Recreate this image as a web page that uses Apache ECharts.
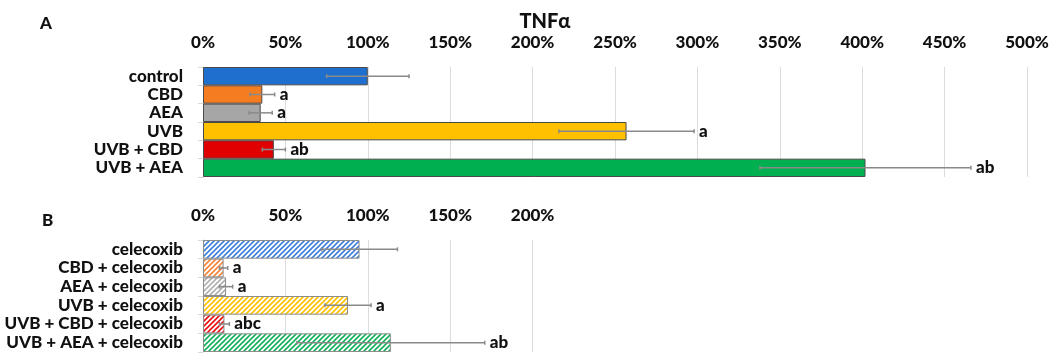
<!DOCTYPE html>
<html>
<head>
<meta charset="utf-8">
<script src="https://cdn.jsdelivr.net/npm/echarts@6/dist/echarts.min.js"></script>
<style>
  html, body { margin: 0; padding: 0; background: #fff; }
  #chart { width: 1059px; height: 353px; }
</style>
</head>
<body>
<div id="chart"></div>
<script>
// Panel A: TNFα relative to control
const catsA = ['control', 'CBD', 'AEA', 'UVB', 'UVB + CBD', 'UVB + AEA'];
const valsA = [100, 36, 35, 257, 43, 402];
const errA  = [25, 7.5, 7, 41, 7, 64];
const sigA  = ['', 'a', 'a', 'a', 'ab', 'ab'];
const colorsA = ['#1f6fcf', '#f47d22', '#a6a6a6', '#ffc000', '#e00000', '#00b050'];

// Panel B: same treatments with celecoxib
const catsB = ['celecoxib', 'CBD + celecoxib', 'AEA + celecoxib', 'UVB + celecoxib', 'UVB + CBD + celecoxib', 'UVB + AEA + celecoxib'];
const valsB = [95, 12.5, 14, 88, 13, 114];
const errB  = [23, 2.5, 4, 14, 3, 57];
const sigB  = ['', 'a', 'a', 'a', 'abc', 'ab'];
const colorsB = ['#3f7fd8', '#f4853a', '#b0b0b0', '#ffc000', '#e81010', '#12b05a'];

const ticksA = [0, 50, 100, 150, 200, 250, 300, 350, 400, 450, 500];
const ticksB = [0, 50, 100, 150, 200];

const FONT = 'Lato';
const WEIGHT = 900;

// diagonal hatch tile for the celecoxib bars
function hatch(color) {
  const s = 5;
  const c = document.createElement('canvas');
  c.width = s; c.height = s;
  const g = c.getContext('2d');
  g.fillStyle = '#ffffff';
  g.fillRect(0, 0, s, s);
  g.strokeStyle = color;
  g.lineWidth = 1.6;
  g.beginPath();
  g.moveTo(-1, s + 1); g.lineTo(s + 1, -1);
  g.moveTo(-1, 1); g.lineTo(1, -1);
  g.moveTo(s - 1, s + 1); g.lineTo(s + 1, s - 1);
  g.stroke();
  return { image: c, repeat: 'repeat' };
}

function errorSeries(idx, vals, errs, sigs) {
  return {
    type: 'custom',
    xAxisIndex: idx, yAxisIndex: idx,
    z: 10,
    silent: true,
    data: vals.map((v, i) => [v, i, errs[i]]),
    encode: { x: 0, y: 1 },
    renderItem(params, api) {
      const v = api.value(0), cat = api.value(1), e = api.value(2);
      const lo = api.coord([v - e, cat]);
      const hi = api.coord([v + e, cat]);
      const cap = 2;
      const st = { stroke: '#8a8a8a', lineWidth: 1.5 };
      return {
        type: 'group',
        children: [
          { type: 'line', shape: { x1: lo[0], y1: lo[1], x2: hi[0], y2: hi[1] }, style: st },
          { type: 'line', shape: { x1: lo[0], y1: lo[1] - cap, x2: lo[0], y2: lo[1] + cap }, style: st },
          { type: 'line', shape: { x1: hi[0], y1: hi[1] - cap, x2: hi[0], y2: hi[1] + cap }, style: st },
          { type: 'text', style: {
              x: hi[0] + 5, y: hi[1], text: sigs[params.dataIndex],
              fill: '#111', font: WEIGHT + ' 17px ' + FONT,
              textAlign: 'left', textVerticalAlign: 'middle' } }
        ]
      };
    }
  };
}

const catAxisLabel = { color: '#111', fontFamily: FONT, fontWeight: WEIGHT, fontSize: 17, margin: 20, interval: 0 };
const valAxisLabel = { color: '#111', fontFamily: FONT, fontWeight: WEIGHT, fontSize: 17, margin: 16,
  formatter: v => v + '%' };

const chart = echarts.init(document.getElementById('chart'), null, { renderer: 'canvas' });
chart.setOption({
  animation: false,
  backgroundColor: '#fff',
  title: [
    { text: 'TNFα', left: 540, top: 7, textAlign: 'center',
      textStyle: { fontFamily: FONT, fontWeight: WEIGHT, fontSize: 20, color: '#111' } },
    { text: 'A', left: 35, top: 10,
      textStyle: { fontFamily: FONT, fontWeight: WEIGHT, fontSize: 17, color: '#111' } },
    { text: 'B', left: 37, top: 207,
      textStyle: { fontFamily: FONT, fontWeight: WEIGHT, fontSize: 17, color: '#111' } }
  ],
  grid: [
    { left: 203, right: 32, top: 67, height: 110 },
    { left: 203, width: 329.6, top: 240, height: 112 }
  ],
  xAxis: [
    { gridIndex: 0, type: 'value', position: 'top', min: ticksA[0], max: ticksA[ticksA.length - 1], interval: 50,
      axisLine: { show: false }, axisTick: { show: false },
      splitLine: { lineStyle: { color: '#dcdcdc', width: 1 } },
      axisLabel: valAxisLabel },
    { gridIndex: 1, type: 'value', position: 'top', min: ticksB[0], max: ticksB[ticksB.length - 1], interval: 50,
      axisLine: { show: false }, axisTick: { show: false },
      splitLine: { lineStyle: { color: '#dcdcdc', width: 1 } },
      axisLabel: valAxisLabel }
  ],
  yAxis: [
    { gridIndex: 0, type: 'category', data: catsA, inverse: true,
      axisLine: { lineStyle: { color: '#d0d0d0' } },
      axisTick: { show: true, length: 5, interval: 0, lineStyle: { color: '#d8d8d8' } },
      axisLabel: catAxisLabel },
    { gridIndex: 1, type: 'category', data: catsB, inverse: true,
      axisLine: { lineStyle: { color: '#d0d0d0' } },
      axisTick: { show: true, length: 5, interval: 0, lineStyle: { color: '#d8d8d8' } },
      axisLabel: catAxisLabel }
  ],
  series: [
    { type: 'bar', xAxisIndex: 0, yAxisIndex: 0, barCategoryGap: 0,
      data: valsA.map((v, i) => ({ value: v, itemStyle: { color: colorsA[i] } })),
      itemStyle: { borderColor: '#4a4a4a', borderWidth: 1 } },
    errorSeries(0, valsA, errA, sigA),
    { type: 'bar', xAxisIndex: 1, yAxisIndex: 1, barCategoryGap: 0,
      data: valsB.map((v, i) => ({ value: v, itemStyle: { color: hatch(colorsB[i]) } })),
      itemStyle: { borderColor: '#8c8c8c', borderWidth: 1 } },
    errorSeries(1, valsB, errB, sigB)
  ]
});
</script>
</body>
</html>
